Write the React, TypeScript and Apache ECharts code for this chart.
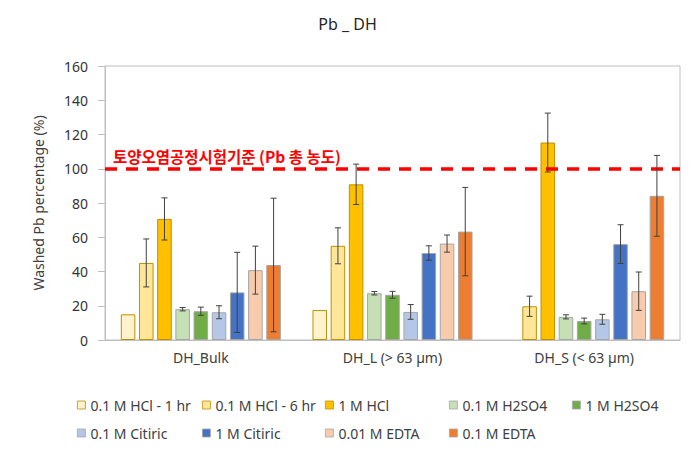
import React, { useEffect, useRef } from "react";
import * as echarts from "echarts";

const categories = ["DH_Bulk", "DH_L (> 63 µm)", "DH_S (< 63 µm)"];
const seriesNames = [
  "0.1 M HCl - 1 hr",
  "0.1 M HCl - 6 hr",
  "1 M HCl",
  "0.1 M H2SO4",
  "1 M H2SO4",
  "0.1 M Citiric",
  "1 M Citiric",
  "0.01 M EDTA",
  "0.1 M EDTA",
];
const hcl01_1hr = [15, 17.5, null];
const hcl01_6hr = [45, 55, 19.7];
const hcl1 = [70.7, 90.9, 115.3];
const h2so4_01 = [18, 27.3, 13.5];
const h2so4_1 = [16.8, 26.4, 11.1];
const cit01 = [16.2, 16.4, 12.1];
const cit1 = [27.8, 50.8, 56];
const edta001 = [40.8, 56.3, 28.5];
const edta01 = [43.8, 63.3, 84.2];

const err_hcl01_1hr = [0, 0, 0];
const err_hcl01_6hr = [14, 10.5, 5.9];
const err_hcl1 = [12.3, 11.8, 17.2];
const err_h2so4_01 = [1, 1, 1.2];
const err_h2so4_1 = [2.4, 2, 1.7];
const err_cit01 = [3.8, 4.3, 2.9];
const err_cit1 = [23.4, 4.2, 11.3];
const err_edta001 = [14, 5, 11.2];
const err_edta01 = [39, 25.8, 23.6];

const yTicks = { min: 0, max: 160, interval: 20 };
const standardValue = 100;
const standardLabel = "토양오염공정시험기준 (Pb 총 농도)";

const values = [hcl01_1hr, hcl01_6hr, hcl1, h2so4_01, h2so4_1, cit01, cit1, edta001, edta01];
const errors = [
  err_hcl01_1hr, err_hcl01_6hr, err_hcl1, err_h2so4_01, err_h2so4_1,
  err_cit01, err_cit1, err_edta001, err_edta01,
];
const fills = ["#FFF2CC", "#FFE699", "#FFC000", "#C5E0B4", "#70AD47", "#B4C7E7", "#4472C4", "#F8CBAD", "#ED7D31"];
const borders = ["#BF9000", "#BF9000", "#BF9000", "#A6A6A6", "#A6A6A6", "#A6A6A6", "#A6A6A6", "#A6A6A6", "#A6A6A6"];

const CAT_GAP = 0.165;
const BAR_GAP = 0.25;
const FONT = "'Noto Sans', sans-serif";

export default function App() {
  const ref = useRef<HTMLDivElement>(null);
  useEffect(() => {
    if (!ref.current) return;
    document.body.style.margin = "0";
    const chart = echarts.init(ref.current, undefined, { renderer: "svg" });
    const n = seriesNames.length;

    const barSeries = seriesNames.map((name, i) => {
      const s: any = {
        name,
        type: "bar",
        data: values[i].map((v) => (v == null ? "-" : v)),
        barCategoryGap: CAT_GAP * 100 + "%",
        barGap: BAR_GAP * 100 + "%",
        itemStyle: { color: fills[i], borderColor: borders[i], borderWidth: 1 },
        z: 2,
      };
      if (i === 0) {
        s.markLine = {
          silent: true,
          symbol: "none",
          z: 5,
          lineStyle: { color: "#FF0000", width: 3.5, type: [12, 9] },
          data: [{ yAxis: standardValue }],
          label: {
            show: true,
            position: "insideStartTop",
            formatter: standardLabel,
            color: "#FF0000",
            fontWeight: "bold",
            fontSize: 15.5,
            fontFamily: "'Noto Sans CJK KR', sans-serif",
            distance: [8, 5],
          },
        };
      }
      return s;
    });

    const errData: any[] = [];
    values.forEach((arr, si) => {
      arr.forEach((v, ci) => {
        const e = errors[si][ci];
        if (v != null && e && e > 0) errData.push([ci, v, e, si]);
      });
    });

    const errSeries: any = {
      type: "custom",
      name: "err",
      z: 10,
      encode: { x: 0, y: 1 },
      data: errData,
      renderItem: (params: any, api: any) => {
        const ci = api.value(0);
        const v = api.value(1);
        const e = api.value(2);
        const si = api.value(3);
        const band = api.size([1, 0])[0];
        const area = band * (1 - CAT_GAP);
        const w = area / (n + (n - 1) * BAR_GAP);
        const x = api.coord([ci, 0])[0] - area / 2 + si * w * (1 + BAR_GAP) + w / 2;
        const yt = api.coord([ci, v + e])[1];
        const yb = api.coord([ci, v - e])[1];
        const style = { stroke: "#404040", lineWidth: 1 };
        return {
          type: "group",
          children: [
            { type: "line", shape: { x1: x, y1: yt, x2: x, y2: yb }, style },
            { type: "line", shape: { x1: x - 3, y1: yt, x2: x + 3, y2: yt }, style },
            { type: "line", shape: { x1: x - 3, y1: yb, x2: x + 3, y2: yb }, style },
          ],
        };
      },
    };

    const cols = [
      [seriesNames[0], seriesNames[5]],
      [seriesNames[1], seriesNames[6]],
      [seriesNames[2], seriesNames[7]],
      [seriesNames[3], seriesNames[8]],
      [seriesNames[4]],
    ];
    const colLeft = [77, 202, 325, 449, 572];
    const legends = cols.map((names, k) => ({
      data: names,
      orient: "vertical",
      left: colLeft[k],
      top: 396,
      padding: 0,
      itemGap: 10,
      itemWidth: 8,
      itemHeight: 8,
      icon: "rect",
      selectedMode: false,
      itemStyle: { borderWidth: 0.8 },
      textStyle: { fontSize: 14, color: "#404040", fontFamily: FONT, lineHeight: 18 },
    }));

    chart.setOption({
      animation: false,
      title: {
        text: "Pb _ DH",
        left: "center",
        top: 16,
        padding: 0,
        textStyle: { fontSize: 16, fontWeight: "normal", color: "#262626", fontFamily: FONT },
      },
      legend: legends,
      grid: {
        left: 105,
        right: 15,
        top: 66,
        bottom: 116,
        show: true,
        borderColor: "#BFBFBF",
        borderWidth: 1,
        containLabel: false,
      },
      xAxis: {
        type: "category",
        data: categories,
        axisLine: { show: true, lineStyle: { color: "#BFBFBF" } },
        axisTick: { show: false },
        axisLabel: { fontSize: 14, color: "#404040", fontFamily: FONT, margin: 10 },
      },
      yAxis: {
        type: "value",
        min: yTicks.min,
        max: yTicks.max,
        interval: yTicks.interval,
        name: "Washed Pb percentage (%)",
        nameLocation: "middle",
        nameGap: 60,
        nameTextStyle: { fontSize: 14, color: "#404040", fontFamily: FONT },
        axisLine: { show: true, lineStyle: { color: "#BFBFBF" } },
        axisTick: { show: true, length: 7, lineStyle: { color: "#BFBFBF" } },
        splitLine: { show: false },
        axisLabel: { fontSize: 14, color: "#333333", fontFamily: FONT, margin: 17 },
      },
      series: [...barSeries, errSeries],
    });
    return () => chart.dispose();
  }, []);
  return <div ref={ref} style={{ width: 695, height: 456 }} />;
}
